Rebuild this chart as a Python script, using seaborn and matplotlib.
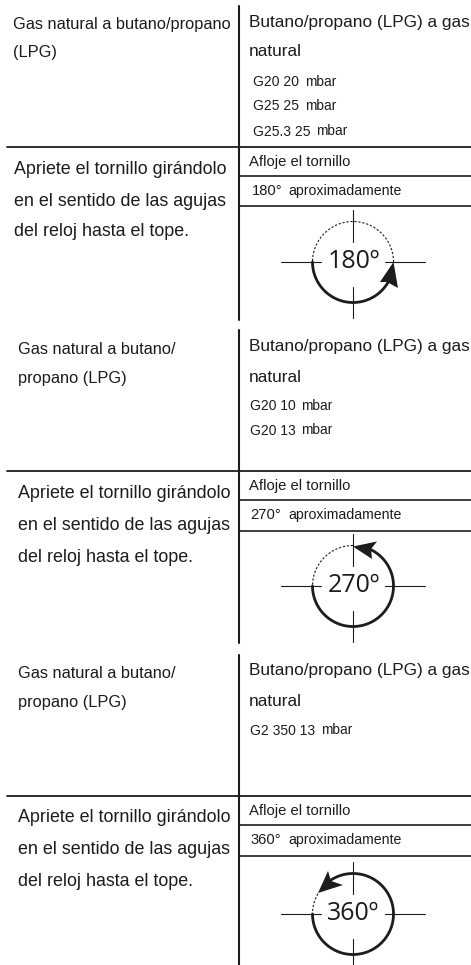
import numpy as np
import matplotlib
matplotlib.use("Agg")
import matplotlib.pyplot as plt
import seaborn as sns

INK = "#1c1c1c"

header_left = [["Gas natural a butano/propano", "(LPG)"],
               ["Gas natural a butano/", "propano (LPG)"],
               ["Gas natural a butano/", "propano (LPG)"]]
header_right = ["Butano/propano (LPG) a gas", "natural"]
gas_labels = [["G20 20", "G25 25", "G25.3 25"], ["G20 10", "G20 13"], ["G2 350 13"]]
body_left = ["Apriete el tornillo girándolo", "en el sentido de las agujas", "del reloj hasta el tope."]
loosen = "Afloje el tornillo"
turn_degrees = [180, 270, 360]
approx = "aproximadamente"
unit = "mbar"

# layout of each block, in pixels
offsets = [0, 325, 645]
header_left_x = [13, 18, 18]
body_left_x = [14, 18, 18]
gas_x = [253, 249.5, 249.5]
mbar_x = [[305.5, 305.5, 316.5], [301.5, 301.5], [321]]
approx_x = [252, 250.5, 250.5]
gas_y = [[82, 106.5, 131.5], [81.5, 106], [86]]
header_left_y = [[24, 53], [24, 53], [28, 57]]
header_right_y = [[22, 52], [22, 52], [26, 56]]
body_y = [[169, 201, 232], [169, 200, 232], [173, 205, 236]]
vline_y = [[6, 320], [5, 318], [10, 320]]
hline_y = [[146.5, 176, 206], [145.5, 175, 205.5], [150.5, 180, 210.5]]
small_y = [[162, 191], [161, 190], [166, 195]]
center_y = [262, 261, 269]
# angles counter-clockwise from east: where the solid arc stops, where the dashed arc starts
stop_deg = [-20, 65, 125]
dash_deg = [0, 90, 150]
arrow_heads = [[(393.5, 262), (380, 282), (387, 282), (398, 288)],
               [(353, 546.5), (377, 541.5), (371, 549), (372, 559)],
               [(318, 893), (328, 871), (331, 881), (343, 885)]]

CX = 353
R = 40.5

sns.set_theme(style="white")
plt.rcParams["font.family"] = ["Liberation Sans", "DejaVu Sans"]

fig = plt.figure(figsize=(4.71, 9.65), dpi=100)
ax = fig.add_axes([0, 0, 1, 1])
ax.set_xlim(0, 471)
ax.set_ylim(965, 0)
ax.axis("off")


def seg(xs, ys, lw, ls="-", color=INK):
    sns.lineplot(x=xs, y=ys, ax=ax, color=color, linewidth=lw, linestyle=ls,
                 sort=False, estimator=None, errorbar=None)


def label(x, y, s, size, **kw):
    ax.text(x, y, s, fontsize=size, color=INK, va="center", ha="left", **kw)


for i, off in enumerate(offsets):
    seg([238.5, 238.5], [off + vline_y[i][0], off + vline_y[i][1]], 1.5)
    seg([7, 471], [off + hline_y[i][0]] * 2, 1.3)
    seg([239, 471], [off + hline_y[i][1]] * 2, 1.2)
    seg([239, 471], [off + hline_y[i][2]] * 2, 1.2)

    for s, y in zip(header_left[i], header_left_y[i]):
        label(header_left_x[i], off + y, s, 11.8)
    for s, y in zip(header_right, header_right_y[i]):
        label(249, off + y, s, 12.4)
    for s, y, mx in zip(gas_labels[i], gas_y[i], mbar_x[i]):
        label(gas_x[i], off + y, s, 10.0)
        label(mx, off + y - 0.5, unit, 9.8)
    for s, y in zip(body_left, body_y[i]):
        label(body_left_x[i], off + y, s, 12.9)

    label(249, off + small_y[i][0], loosen, 10.7)
    label(approx_x[i], off + small_y[i][1], f"{turn_degrees[i]}°", 10.6)
    label(288.5, off + small_y[i][1], approx, 10.2)

    # crosshair, broken around the central label
    cy = off + center_y[i]
    seg([281, 321], [cy, cy], 0.8)
    seg([385, 425], [cy, cy], 0.8)
    seg([CX, CX], [cy - 52, cy - 20], 0.8)
    seg([CX, CX], [cy + 25, cy + 56], 0.8)

    # solid arc runs counter-clockwise from west through south, dashed part closes the circle
    t_solid = np.radians(np.linspace(-180, stop_deg[i], 120))
    seg(CX + R * np.cos(t_solid), cy - R * np.sin(t_solid), 2.0)
    t_dash = np.radians(np.linspace(dash_deg[i], 180, 80))
    seg(CX + R * np.cos(t_dash), cy - R * np.sin(t_dash), 0.8, ls=(0, (2, 1.6)))

    head = np.array(arrow_heads[i], dtype=float)
    ax.fill(head[:, 0], head[:, 1], color=INK, lw=0, zorder=4)

    ax.text(CX + 0.5, cy, f"{turn_degrees[i]}º", family=["Open Sans", "DejaVu Sans"],
            fontsize=18, color=INK, ha="center", va="center")

plt.savefig("out.png", dpi=100)
